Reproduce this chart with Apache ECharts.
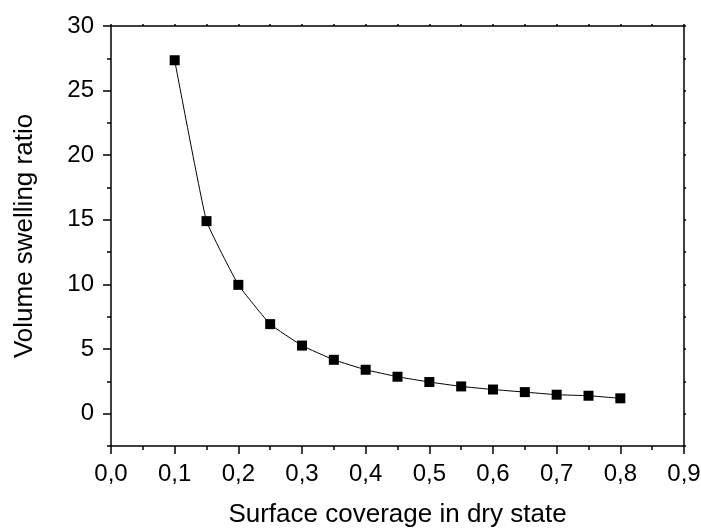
<!DOCTYPE html>
<html>
<head>
<meta charset="utf-8">
<script src="https://cdn.jsdelivr.net/npm/echarts@6/dist/echarts.min.js"></script>
<style>html,body{margin:0;padding:0;background:#fff}#c{width:701px;height:528px}</style>
</head>
<body>
<div id="c"></div>
<script>
var coverage = [0.10,0.15,0.20,0.25,0.30,0.35,0.40,0.45,0.50,0.55,0.60,0.65,0.70,0.75,0.80];
var swelling = [27.35,14.9,9.97,6.93,5.27,4.17,3.40,2.86,2.45,2.11,1.87,1.67,1.47,1.39,1.19];
var yLabelValues = [0,5,10,15,20,25,30];
var xTitle = 'Surface coverage in dry state';
var yTitle = 'Volume swelling ratio';

var font = '"Liberation Sans", Arial, sans-serif';
var data = coverage.map(function(x,i){return [x, swelling[i]];});
var lineStyle = {color:'#000', width:1.5};
var chart = echarts.init(document.getElementById('c'), null, {renderer:'canvas'});
chart.setOption({
  animation:false,
  backgroundColor:'#fff',
  grid:{left:111,right:17,top:26,bottom:82,containLabel:false,outerBoundsMode:'none'},
  xAxis:[{
    type:'value', min:0, max:0.9, interval:0.1, position:'bottom',
    name:xTitle, nameLocation:'middle', nameGap:56,
    nameTextStyle:{fontFamily:font,fontSize:26,color:'#000'},
    axisLine:{show:true,onZero:false,lineStyle:lineStyle},
    axisTick:{show:true,inside:false,length:8,lineStyle:lineStyle},
    minorTick:{show:true,splitNumber:2,length:4,lineStyle:{color:'#000',width:1.5}},
    splitLine:{show:false},
    axisLabel:{fontFamily:font,fontSize:24,color:'#000',margin:16,
      formatter:function(v){return v.toFixed(1).replace('.',',');}}
  },{
    type:'value', min:0, max:0.9, interval:0.1, position:'top',
    axisLine:{show:true,onZero:false,lineStyle:lineStyle},
    axisTick:{show:true,inside:false,length:2,lineStyle:lineStyle},
    minorTick:{show:true,splitNumber:2,length:2,lineStyle:{color:'#000',width:1.5}},
    splitLine:{show:false},
    axisLabel:{show:false}
  }],
  yAxis:[{
    type:'value', min:-2.5, max:30, position:'left',
    name:yTitle, nameLocation:'middle', nameGap:73,
    nameTextStyle:{fontFamily:font,fontSize:26,color:'#000'},
    axisLine:{show:true,onZero:false,lineStyle:lineStyle},
    axisTick:{show:true,inside:false,length:8,customValues:yLabelValues,lineStyle:lineStyle},
    splitLine:{show:false},
    axisLabel:{fontFamily:font,fontSize:24,color:'#000',margin:17,customValues:yLabelValues}
  },{
    type:'value', min:-2.5, max:30, interval:2.5, position:'left',
    axisLine:{show:false,onZero:false},
    axisTick:{show:true,inside:false,length:4,lineStyle:lineStyle},
    splitLine:{show:false},
    axisLabel:{show:false}
  },{
    type:'value', min:-2.5, max:30, interval:2.5, position:'right',
    axisLine:{show:true,onZero:false,lineStyle:lineStyle},
    axisTick:{show:true,inside:false,length:2,lineStyle:lineStyle},
    splitLine:{show:false},
    axisLabel:{show:false}
  }],
  series:[{
    type:'line', xAxisIndex:0, yAxisIndex:0, data:data,
    smooth:0.1,
    symbol:'rect', symbolSize:10,
    itemStyle:{color:'#000'},
    lineStyle:{color:'#000',width:1}
  }]
});
</script>
</body>
</html>
